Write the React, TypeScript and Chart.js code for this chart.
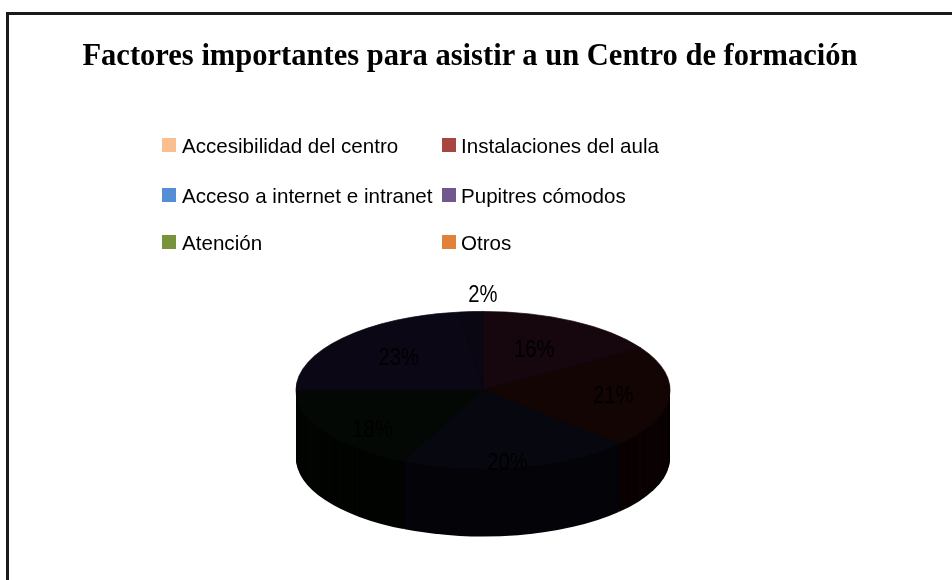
import React, { useEffect, useRef } from "react";
import { Chart, registerables } from "chart.js";

Chart.register(...registerables);

const TITLE = "Factores importantes para asistir a un Centro de formación";
const CATEGORIES = [
  "Accesibilidad del centro",
  "Instalaciones del aula",
  "Acceso a internet e intranet",
  "Pupitres cómodos",
  "Atención",
  "Otros",
];
const VALUES = [16, 21, 20, 18, 23, 2];
const LEGEND_COLORS = ["#FBBF8F", "#A94541", "#558ED5", "#72578F", "#77933C", "#E0823A"];
const TOP_COLORS = ["#15070d", "#140505", "#07070f", "#040804", "#0b0714", "#0a0712"];
const SIDE_COLORS = ["#0a0306", "#0a0202", "#040409", "#020402", "#050309", "#050309"];

const TILT = 0.42;
const DEPTH = 68;

const tiltPlugin = {
  id: "tilt3d",
  beforeDatasetsDraw(chart: any) {
    const meta = chart.getDatasetMeta(0);
    const ctx = chart.ctx;
    const arcs = meta.data;
    if (!arcs.length) return;
    const cx = arcs[0].x;
    const cy = arcs[0].y;
    for (let d = DEPTH; d >= 1; d--) {
      ctx.save();
      ctx.translate(cx, cy + d);
      ctx.scale(1, TILT);
      ctx.translate(-cx, -cy);
      arcs.forEach((arc: any, i: number) => {
        const p = arc.getProps(["startAngle", "endAngle", "outerRadius"]);
        ctx.beginPath();
        ctx.moveTo(cx, cy);
        ctx.arc(cx, cy, p.outerRadius, p.startAngle, p.endAngle);
        ctx.closePath();
        ctx.fillStyle = SIDE_COLORS[i];
        ctx.fill();
      });
      ctx.restore();
    }
    ctx.save();
    ctx.translate(cx, cy);
    ctx.scale(1, TILT);
    ctx.translate(-cx, -cy);
  },
  afterDatasetsDraw(chart: any) {
    const ctx = chart.ctx;
    ctx.restore();
    const meta = chart.getDatasetMeta(0);
    const arcs = meta.data;
    if (!arcs.length) return;
    const total = VALUES.reduce((a, b) => a + b, 0);
    arcs.forEach((arc: any, i: number) => {
      const p = arc.getProps(["x", "y", "startAngle", "endAngle", "outerRadius"]);
      const mid = (p.startAngle + p.endAngle) / 2;
      const s = Math.sin(mid);
      const c = Math.cos(mid);
      const pct = Math.round((VALUES[i] / total) * 100);
      let lx: number;
      let ly: number;
      if (pct < 5) {
        lx = p.x + c * p.outerRadius * 1.2 + 14;
        ly = p.y + s * p.outerRadius * 1.2 * TILT;
      } else {
        const f = 0.7 - 0.15 * Math.max(0, -s);
        lx = p.x + c * p.outerRadius * f;
        ly = p.y + s * p.outerRadius * f * TILT + Math.max(0, s) * DEPTH * 0.3;
      }
      ctx.save();
      ctx.translate(lx, ly);
      ctx.scale(0.88, 1);
      ctx.font = "23px 'Liberation Sans'";
      ctx.fillStyle = "#000";
      ctx.textAlign = "center";
      ctx.textBaseline = "middle";
      ctx.fillText(pct + "%", 0, 0);
      ctx.restore();
    });
  },
};

export default function App() {
  const ref = useRef<HTMLCanvasElement | null>(null);
  useEffect(() => {
    if (!ref.current) return;
    const chart = new Chart(ref.current, {
      type: "pie",
      data: {
        labels: CATEGORIES,
        datasets: [
          {
            data: VALUES,
            backgroundColor: TOP_COLORS,
            borderColor: TOP_COLORS,
            borderWidth: 1,
            radius: 187,
            clip: false,
          } as any,
        ],
      },
      options: {
        responsive: false,
        animation: false,
        events: [],
        layout: { padding: { left: 383, right: 369, top: 340, bottom: 140 } },
        plugins: {
          legend: { display: false },
          title: { display: false },
          tooltip: { enabled: false },
        },
      },
      plugins: [tiltPlugin],
    });
    return () => chart.destroy();
  }, []);

  const rows = [146, 196, 243];
  const colBox = [162, 442];
  const colText = [182, 461];

  return (
    <div style={{ position: "fixed", left: 0, top: 0, width: 952, height: 580, overflow: "hidden", background: "#fff" }}>
      <canvas ref={ref} width={952} height={580} style={{ position: "absolute", left: 0, top: 0 }} />
      <div
        style={{
          position: "absolute",
          left: 6,
          top: 12,
          width: 1200,
          height: 800,
          borderLeft: "3px solid #1a1a1a",
          borderTop: "3px solid #1a1a1a",
        }}
      />
      <div
        style={{
          position: "absolute",
          left: 470,
          top: 37,
          height: 36,
          lineHeight: "36px",
          whiteSpace: "nowrap",
          fontFamily: "'Liberation Serif', serif",
          fontWeight: "bold",
          fontSize: 31,
          transform: "translateX(-50%) scaleX(0.985)",
          color: "#000",
        }}
      >
        {TITLE}
      </div>
      {CATEGORIES.map((c, i) => {
        const r = Math.floor(i / 2);
        const col = i % 2;
        const y = rows[r];
        return (
          <React.Fragment key={c}>
            <div
              style={{
                position: "absolute",
                left: colBox[col],
                top: y - 8,
                width: 14,
                height: 14,
                background: LEGEND_COLORS[i],
              }}
            />
            <div
              style={{
                position: "absolute",
                left: colText[col],
                top: y - 14,
                height: 28,
                lineHeight: "28px",
                whiteSpace: "nowrap",
                fontFamily: "'Liberation Sans', sans-serif",
                fontSize: 21,
                transform: "scaleX(0.98)",
                transformOrigin: "left center",
                color: "#000",
              }}
            >
              {c}
            </div>
          </React.Fragment>
        );
      })}
    </div>
  );
}
